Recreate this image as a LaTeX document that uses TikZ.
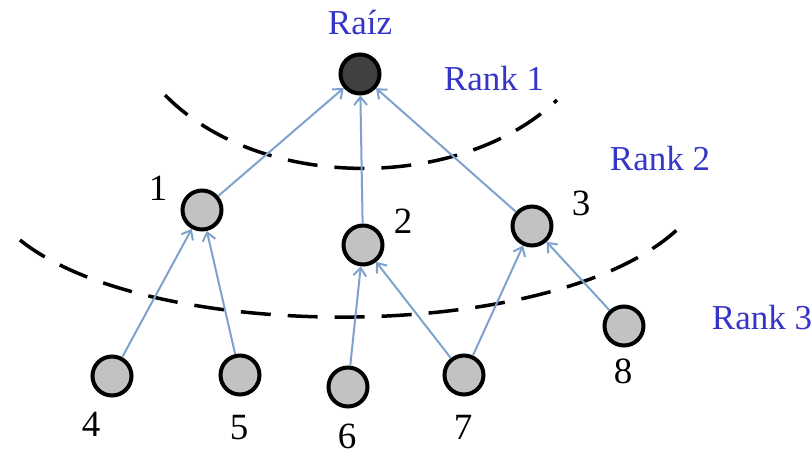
\documentclass[tikz,border=0pt]{standalone}
\usepackage{fontspec}
\setmainfont{Liberation Serif}
\usetikzlibrary{arrows.meta}
\definecolor{rankblue}{HTML}{3535C8}
\definecolor{edgeblue}{HTML}{7FA2CC}
\definecolor{nodegray}{HTML}{C2C2C2}
\definecolor{rootgray}{HTML}{404040}
\begin{document}
\begin{tikzpicture}[x=1pt,y=-1pt,
  vertex/.style={circle,draw=black,line width=4pt,fill=nodegray,minimum size=39pt,inner sep=0pt},
  rootvertex/.style={vertex,fill=rootgray},
  edge/.style={draw=edgeblue,line width=2pt,-{Straight Barb[length=8pt,width=13pt,line width=2pt]}},
  rankline/.style={draw=black,line width=3.5pt,dash pattern=on 30pt off 17pt},
  numlabel/.style={font=\fontsize{37}{37}\selectfont,inner sep=0pt},
  ranklabel/.style={font=\fontsize{35}{35}\selectfont,text=rankblue,inner sep=0pt}]
\useasboundingbox (0,0) rectangle (812,456);

% rank boundaries
\draw[rankline] (165,95) .. controls (260,192) and (460,192) .. (557,100);
\draw[rankline] (20,240) .. controls (150,345) and (560,345) .. (681,226);

% vertices
\node[rootvertex] (r) at (360,74) {};
\node[vertex] (n1) at (202,210) {};
\node[vertex] (n2) at (363,245) {};
\node[vertex] (n3) at (532,226) {};
\node[vertex] (n4) at (112,376) {};
\node[vertex] (n5) at (240,375) {};
\node[vertex] (n6) at (348,387) {};
\node[vertex] (n7) at (464,375) {};
\node[vertex] (n8) at (624,326) {};

% parent links
\draw[edge] (n1) -- (r);
\draw[edge] (n2) -- (r);
\draw[edge] (n3) -- (r);
\draw[edge] (n4) -- (n1);
\draw[edge] (n5) -- (n1);
\draw[edge] (n6) -- (n2);
\draw[edge] (n7) -- (n2);
\draw[edge] (n7) -- (n3);
\draw[edge] (n8) -- (n3);

% labels
\node[ranklabel] (lr) at (360,22) {Raíz};
\node[ranklabel] (lk1) at (494,79) {Rank 1};
\node[ranklabel] (lk2) at (660,159) {Rank 2};
\node[ranklabel] (lk3) at (762,318) {Rank 3};
\node[numlabel] (l1) at (158,188) {1};
\node[numlabel] (l2) at (403,221) {2};
\node[numlabel] (l3) at (581,203) {3};
\node[numlabel] (l4) at (91,424) {4};
\node[numlabel] (l5) at (239,428) {5};
\node[numlabel] (l6) at (347,436) {6};
\node[numlabel] (l7) at (463,427) {7};
\node[numlabel] (l8) at (623,371) {8};
\end{tikzpicture}
\end{document}
